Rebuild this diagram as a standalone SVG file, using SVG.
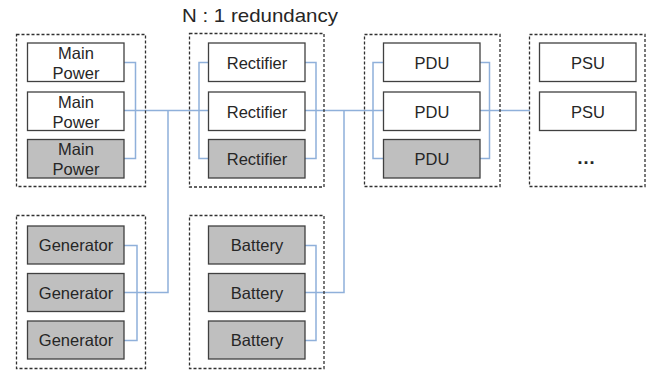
<svg xmlns="http://www.w3.org/2000/svg" width="650" height="371" viewBox="0 0 650 371">
  <style>
    .grp { fill: none; stroke: #303030; stroke-width: 1.3; stroke-dasharray: 3 2; }
    .box { stroke: #404040; stroke-width: 1.3; }
    .on { fill: #ffffff; }
    .spare { fill: #bfbfbf; }
    .lbl { font-family: "Liberation Sans", Arial, sans-serif; font-size: 16.5px; fill: #262626; text-anchor: middle; }
    .more { font-family: "Liberation Sans", Arial, sans-serif; font-size: 19px; font-weight: bold; fill: #262626; text-anchor: middle; }
    .title { font-family: "Liberation Sans", Arial, sans-serif; font-size: 19px; fill: #262626; }
    .wire { fill: none; stroke: #8fb0da; stroke-width: 1.5; }
  </style>

  <text class="title" x="182" y="22" textLength="156" lengthAdjust="spacingAndGlyphs">N : 1 redundancy</text>

  <!-- connectors -->
  <g id="connectors">
    <!-- main power bus -->
    <path class="wire" d="M124 62.5 H135.5 V158.5 H124 M124 110.5 H199"/>
    <!-- generator bus -->
    <path class="wire" d="M124 245.5 H137 V340.5 H124 M124 292.5 H168 V110.5"/>
    <!-- rectifier bank -->
    <path class="wire" d="M208 62.5 H199 V158.5 H208 M199 110.5 H208"/>
    <path class="wire" d="M305 62.5 H316 V158.5 H305 M305 110.5 H373"/>
    <!-- battery bus -->
    <path class="wire" d="M305 245.5 H316 V340.5 H305 M305 292.5 H344 V110.5"/>
    <!-- PDU bank -->
    <path class="wire" d="M383 62.5 H373 V158.5 H383 M373 110.5 H383"/>
    <path class="wire" d="M480 62.5 H489.5 V158.5 H480 M480 110.5 H530"/>
  </g>

  <g id="main-power">
    <rect class="grp" x="16.5" y="34.5" width="129" height="152"/>
    <rect class="box on" x="27.5" y="43" width="96.5" height="38.5"/>
    <text class="lbl" x="76" y="58.5">Main</text>
    <text class="lbl" x="76" y="78.5">Power</text>
    <rect class="box on" x="27.5" y="92" width="96.5" height="38.5"/>
    <text class="lbl" x="76" y="107.5">Main</text>
    <text class="lbl" x="76" y="127.5">Power</text>
    <rect class="box spare" x="27.5" y="139.5" width="96.5" height="38.5"/>
    <text class="lbl" x="76" y="155">Main</text>
    <text class="lbl" x="76" y="175">Power</text>
  </g>

  <g id="rectifier">
    <rect class="grp" x="189.5" y="33.5" width="134.5" height="153.5"/>
    <rect class="box on" x="208.5" y="43" width="96.5" height="38.5"/>
    <text class="lbl" x="257" y="68.5">Rectifier</text>
    <rect class="box on" x="208.5" y="92" width="96.5" height="38.5"/>
    <text class="lbl" x="257" y="117.5">Rectifier</text>
    <rect class="box spare" x="208.5" y="139.5" width="96.5" height="38.5"/>
    <text class="lbl" x="257" y="165">Rectifier</text>
  </g>

  <g id="pdu">
    <rect class="grp" x="364.5" y="34.5" width="135.5" height="152"/>
    <rect class="box on" x="383.5" y="43" width="96.5" height="38.5"/>
    <text class="lbl" x="432" y="68.5">PDU</text>
    <rect class="box on" x="383.5" y="92" width="96.5" height="38.5"/>
    <text class="lbl" x="432" y="117.5">PDU</text>
    <rect class="box spare" x="383.5" y="139.5" width="96.5" height="38.5"/>
    <text class="lbl" x="432" y="165">PDU</text>
  </g>

  <g id="psu">
    <rect class="grp" x="529.5" y="34.5" width="115.5" height="152"/>
    <rect class="box on" x="539.5" y="43" width="96.5" height="38.5"/>
    <text class="lbl" x="588" y="68.5">PSU</text>
    <rect class="box on" x="539.5" y="92" width="96.5" height="38.5"/>
    <text class="lbl" x="588" y="117.5">PSU</text>
    <text class="more" x="586" y="164">…</text>
  </g>

  <g id="generator">
    <rect class="grp" x="16.5" y="215.5" width="129" height="153"/>
    <rect class="box spare" x="27.5" y="226" width="96.5" height="38"/>
    <text class="lbl" x="76" y="251">Generator</text>
    <rect class="box spare" x="27.5" y="273.5" width="96.5" height="38"/>
    <text class="lbl" x="76" y="298.5">Generator</text>
    <rect class="box spare" x="27.5" y="321" width="96.5" height="38"/>
    <text class="lbl" x="76" y="346">Generator</text>
  </g>

  <g id="battery">
    <rect class="grp" x="189.5" y="215.5" width="134.5" height="153"/>
    <rect class="box spare" x="208.5" y="226" width="96.5" height="38"/>
    <text class="lbl" x="257" y="251">Battery</text>
    <rect class="box spare" x="208.5" y="273.5" width="96.5" height="38"/>
    <text class="lbl" x="257" y="298.5">Battery</text>
    <rect class="box spare" x="208.5" y="321" width="96.5" height="38"/>
    <text class="lbl" x="257" y="346">Battery</text>
  </g>
</svg>
